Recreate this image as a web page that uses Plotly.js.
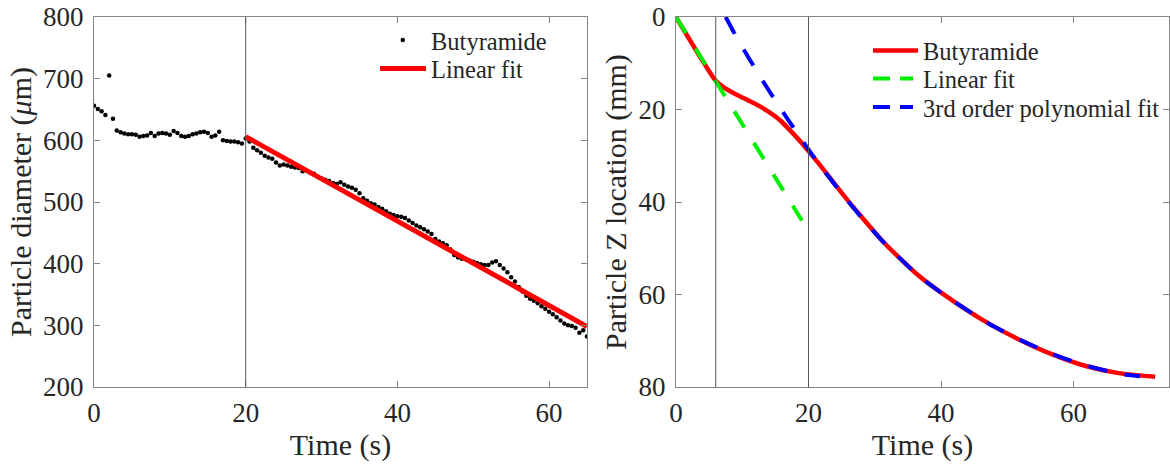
<!DOCTYPE html>
<html>
<head>
<meta charset="utf-8">
<script src="https://cdn.plot.ly/plotly-3.0.1.min.js"></script>
<style>html,body{margin:0;padding:0;background:#fff;}#chart{width:1170px;height:465px;}</style>
</head>
<body>
<div id="chart"></div>
<script>
// ---------- Left panel: particle diameter ----------
const timeDiam = [0,0.5,1,1.5,2,2.5,3,3.5,4,4.5,5,5.5,6,6.5,7,7.5,8,8.5,9,9.5,10,10.5,11,11.5,12,12.5,13,13.5,14,14.5,15,15.5,16,16.5,17,17.5,18,18.5,19,19.5,
  20,20.5,21,21.5,22,22.5,23,23.5,24,24.5,25,25.5,26,26.5,27,27.5,28,28.5,29,29.5,30,30.5,31,31.5,32,32.5,33,33.5,34,34.5,35,35.5,36,36.5,37,37.5,38,38.5,39,39.5,
  40,40.5,41,41.5,42,42.5,43,43.5,44,44.5,45,45.5,46,46.5,47,47.5,48,48.5,49,49.5,50,50.5,51,51.5,52,52.5,53,53.5,54,54.5,55,55.5,56,56.5,57,57.5,58,58.5,59,59.5,
  60,60.5,61,61.5,62,62.5,63,63.5,64,64.5,65];
const diameterUm = [656,651,647,641,705,635,616,613,611,610,610,609,606,607,608,612,607,611,612,611,609,615,612,607,606,607,610,611,613,614,612,606,608,614,600,599,598,598,597,595,
  603,598,588,584,580,575,572,570,564,559,561,559,557,556,555,550,551,548,546,541,538,536,534,531,529,532,528,525,523,520,514,506,502,498,496,492,489,485,481,479,
  477,476,474,470,466,462,459,456,452,448,440,436,433,430,423,414,410,408,407,405,403,401,399,398,398,402,404,398,392,386,378,371,362,355,348,343,340,336,331,327,
  322,318,313,308,303,300,299,296,288,292,282];
const fitTime = [20, 65];
const fitDiam = [606, 298];
const guideTimesLeft = [20];

// ---------- Right panel: particle Z location ----------
const timeZ = [0,6,7,8,9,10,11,12,13,14,15,16,17,18,19,20,22,24,26,28,31.4,36.5,40.6,46.5,51.6,56.7,61.7,66.8,72.3];
const zButyramide = [0,13.8,15.0,15.9,16.7,17.4,18.1,18.8,19.6,20.5,21.5,22.7,24.2,25.7,27.3,29.0,32.5,36.2,39.8,43.2,48.8,55.8,60.2,65.7,69.6,72.9,75.4,77.0,77.8];
const linFitTime = [0, 19];
const linFitZ = [0, 44];
const polyTime = [7.5,9,11,13,15,17,19,21,23,25,27.9,31.4,36.5,40.6,46.5,51.6,56.7,61.7,66.8,70];
const polyZ = [0,4.0,8.9,13.6,18.1,22.4,26.6,30.7,34.5,38.1,43.2,48.8,55.8,60.2,65.7,69.6,72.8,75.3,77.1,77.7];
const guideTimesRight = [6, 20];

// ---------- Tick values & labels ----------
const xTickVals = [0, 20, 40, 60];
const yTickValsLeft = [200, 300, 400, 500, 600, 700, 800];
const yTickValsRight = [0, 20, 40, 60, 80];
const legendLeftNames = ['Butyramide', 'Linear fit'];
const legendRightNames = ['Butyramide', 'Linear fit', '3rd order polynomial fit'];

// ---------- Layout geometry ----------
const W = 1170, H = 465, mL = 94, mR = 1, mT = 17, mB = 78;
const PW = W - mL - mR, PH = H - mT - mB;
const px = v => (v - mL) / PW;
const py = v => 1 - (v - mT) / PH;

const FONT = 'Liberation Serif, Times New Roman, serif';
const TXT = '#262626';
const AX = '#858585';

const traces = [
  {x: timeDiam, y: diameterUm, xaxis: 'x', yaxis: 'y', mode: 'markers', type: 'scatter',
   marker: {color: '#000', size: 4.5}, name: legendLeftNames[0], showlegend: false, hoverinfo: 'skip'},
  {x: fitTime, y: fitDiam, xaxis: 'x', yaxis: 'y', mode: 'lines', type: 'scatter',
   line: {color: '#ff0000', width: 5}, name: legendLeftNames[1], showlegend: false},
  {x: timeZ, y: zButyramide, xaxis: 'x2', yaxis: 'y2', mode: 'lines', type: 'scatter',
   line: {color: '#ff0000', width: 4.5, shape: 'spline', smoothing: 0.6}, name: legendRightNames[0], showlegend: false},
  {x: linFitTime, y: linFitZ, xaxis: 'x2', yaxis: 'y2', mode: 'lines', type: 'scatter',
   line: {color: '#00ee00', width: 4, dash: '19px,18px'}, name: legendRightNames[1], showlegend: false},
  {x: polyTime, y: polyZ, xaxis: 'x2', yaxis: 'y2', mode: 'lines', type: 'scatter',
   line: {color: '#0000ff', width: 4, dash: '19px,18px', shape: 'spline', smoothing: 0.6}, name: legendRightNames[2], showlegend: false}
];

const axisCommon = {
  showline: true, linecolor: AX, linewidth: 1, mirror: 'ticks',
  ticks: 'inside', ticklen: 6, tickcolor: AX, tickwidth: 1,
  showgrid: false, zeroline: false,
  tickfont: {family: FONT, size: 27, color: TXT}
};

const shapes = [];
guideTimesLeft.forEach(t => shapes.push({type: 'line', xref: 'x', yref: 'y domain', x0: t, x1: t, y0: 0, y1: 1, line: {color: '#555', width: 1}}));
guideTimesRight.forEach(t => shapes.push({type: 'line', xref: 'x2', yref: 'y2 domain', x0: t, x1: t, y0: 0, y1: 1, line: {color: '#555', width: 1}}));

// custom legends (paper coordinates)
const annotations = [];
shapes.push({type: 'circle', xref: 'paper', yref: 'paper', x0: px(400.5), x1: px(405), y0: py(42.3), y1: py(37.8), fillcolor: '#000', line: {width: 0}});
shapes.push({type: 'line', xref: 'paper', yref: 'paper', x0: px(380), x1: px(426), y0: py(68.5), y1: py(68.5), line: {color: '#ff0000', width: 5}});
annotations.push({xref: 'paper', yref: 'paper', x: px(429), y: py(41), xanchor: 'left', yanchor: 'middle', showarrow: false, text: legendLeftNames[0], font: {family: FONT, size: 24.5, color: TXT}});
annotations.push({xref: 'paper', yref: 'paper', x: px(429), y: py(69.5), xanchor: 'left', yanchor: 'middle', showarrow: false, text: legendLeftNames[1], font: {family: FONT, size: 24.5, color: TXT}});
const rRows = [50.5, 78.5, 107];
shapes.push({type: 'line', xref: 'paper', yref: 'paper', x0: px(873), x1: px(918), y0: py(rRows[0]), y1: py(rRows[0]), line: {color: '#ff0000', width: 4.5}});
[['#00ee00', rRows[1]], ['#0000ff', rRows[2]]].forEach(([c, yy]) => {
  shapes.push({type: 'line', xref: 'paper', yref: 'paper', x0: px(873), x1: px(890), y0: py(yy), y1: py(yy), line: {color: c, width: 4}});
  shapes.push({type: 'line', xref: 'paper', yref: 'paper', x0: px(900), x1: px(913), y0: py(yy), y1: py(yy), line: {color: c, width: 4}});
});
legendRightNames.forEach((n, i) => annotations.push({xref: 'paper', yref: 'paper', x: px(921), y: py(rRows[i] + 1), xanchor: 'left', yanchor: 'middle', showarrow: false, text: n, font: {family: FONT, size: 24.5, color: TXT}}));

const layout = {
  width: W, height: H,
  margin: {l: mL, r: mR, t: mT, b: mB, pad: 0},
  paper_bgcolor: '#fff', plot_bgcolor: '#fff',
  showlegend: false,
  font: {family: FONT, color: TXT},
  xaxis: Object.assign({}, axisCommon, {domain: [0, (587 - mL) / PW], range: [0, 65], tickvals: xTickVals, ticklabelstandoff: 2,
    title: {text: 'Time (s)', font: {family: FONT, size: 30, color: TXT}, standoff: 0}}),
  yaxis: Object.assign({}, axisCommon, {domain: [0, 1], range: [200, 800], tickvals: yTickValsLeft, anchor: 'x', ticklabelstandoff: 4,
    title: {text: 'Particle diameter (<i>μ</i>m)', font: {family: FONT, size: 30, color: TXT}, standoff: 2}}),
  xaxis2: Object.assign({}, axisCommon, {domain: [(676 - mL) / PW, 1], range: [0, 74.4], tickvals: xTickVals, anchor: 'y2', ticklabelstandoff: 2,
    title: {text: 'Time (s)', font: {family: FONT, size: 30, color: TXT}, standoff: 0}}),
  yaxis2: Object.assign({}, axisCommon, {domain: [0, 1], range: [80, 0], tickvals: yTickValsRight, anchor: 'x2', ticklabelstandoff: 4,
    title: {text: 'Particle Z location (mm)', font: {family: FONT, size: 30, color: TXT}, standoff: 3}}),
  shapes: shapes,
  annotations: annotations
};

Plotly.newPlot('chart', traces, layout, {displayModeBar: false, staticPlot: true});
</script>
</body>
</html>
